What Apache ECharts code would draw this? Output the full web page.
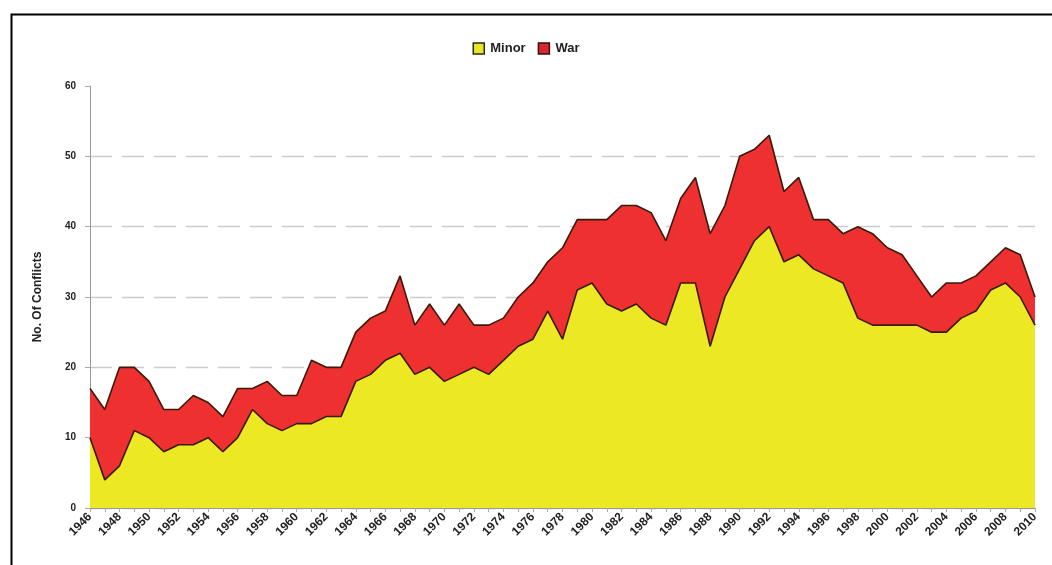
<!DOCTYPE html>
<html>
<head>
<meta charset="utf-8">
<script src="https://cdn.jsdelivr.net/npm/echarts@6/dist/echarts.min.js"></script>
<style>
html,body{margin:0;padding:0;background:#fff;}
#c{width:1052px;height:565px;}
</style>
</head>
<body>
<div id="c"></div>
<script>
var years = [];
for (var y = 1946; y <= 2010; y++) years.push(String(y));

var minor = [10,4,6,11,10,8,9,9,10,8,10,14,12,11,12,12,13,13,18,19,21,22,19,20,18,19,20,19,21,23,24,28,24,31,32,29,28,29,27,26,32,32,23,30,34,38,40,35,36,34,33,32,27,26,26,26,26,25,25,27,28,31,32,30,26];
var total = [17,14,20,20,18,14,14,16,15,13,17,17,18,16,16,21,20,20,25,27,28,33,26,29,26,29,26,26,27,30,32,35,37,41,41,41,43,43,42,38,44,47,39,43,50,51,53,45,47,41,41,39,40,39,37,36,33,30,32,32,33,35,37,36,30];
var war = total.map(function(t,i){ return t - minor[i]; });
var yTicks = [0,10,20,30,40,50,60];

var chart = echarts.init(document.getElementById('c'));
var lineCol = '#3b1a0c';
var font = 'Liberation Sans, Arial';
var option = {
  animation: false,
  backgroundColor: '#fff',
  legend: {
    top: 37, left: 'center',
    itemWidth: 11, itemHeight: 11, itemGap: 12,
    textStyle: {fontFamily: font, fontWeight: 'bold', fontSize: 13, color: '#222', padding: [0,0,0,1]},
    data: [
      {name: 'Minor', icon: 'rect', itemStyle: {color: '#e8e62a', borderColor: '#2b2b10', borderWidth: 1.5}},
      {name: 'War', icon: 'rect', itemStyle: {color: '#d8282e', borderColor: '#3a0e0e', borderWidth: 1.5}}
    ]
  },
  grid: {left: 90, right: 17, top: 86, bottom: 57, containLabel: false},
  xAxis: {
    type: 'category', data: years, boundaryGap: false,
    axisLine: {lineStyle: {color: '#999', width: 1}},
    axisTick: {show: true, interval: 0, length: 4, lineStyle: {color: '#aaa'}},
    axisLabel: {interval: 1, rotate: 45, margin: 7, fontFamily: font, fontWeight: 'bold', fontSize: 12, color: '#222'},
    splitLine: {show: false}
  },
  yAxis: {
    type: 'value', min: 0, max: 60, interval: 10,
    name: 'No. Of Conflicts', nameLocation: 'middle', nameGap: 46,
    nameTextStyle: {fontFamily: font, fontWeight: 'bold', fontSize: 12, color: '#222'},
    axisLine: {show: true, lineStyle: {color: '#999', width: 1}},
    axisTick: {show: true, length: 5, lineStyle: {color: '#aaa'}},
    axisLabel: {fontFamily: font, fontWeight: 'bold', fontSize: 10, color: '#222', margin: 14,
      formatter: function(v){ return yTicks.indexOf(v) >= 0 ? String(v) : ''; }},
    splitLine: {show: true, lineStyle: {color: ['#cccccc','#cccccc','#cccccc','#cccccc','#cccccc','#cccccc','rgba(0,0,0,0)'], type: [22, 10], width: 1.3}}
  },
  series: [
    {
      name: 'Minor', type: 'line', stack: 'a', data: minor, symbol: 'none',
      lineStyle: {color: lineCol, width: 1.6},
      areaStyle: {color: '#ece824', opacity: 1},
      itemStyle: {color: '#e8e62a'},
      z: 3
    },
    {
      name: 'War', type: 'line', stack: 'a', data: war, symbol: 'none',
      lineStyle: {color: lineCol, width: 1.6},
      areaStyle: {color: '#ee3030', opacity: 1},
      itemStyle: {color: '#d8282e'},
      z: 2
    }
  ],
  graphic: [
    {type: 'rect', left: 9, top: 12, shape: {width: 1100, height: 600}, style: {fill: 'none', stroke: '#000', lineWidth: 2}, silent: true}
  ]
};
chart.setOption(option);
</script>
</body>
</html>
